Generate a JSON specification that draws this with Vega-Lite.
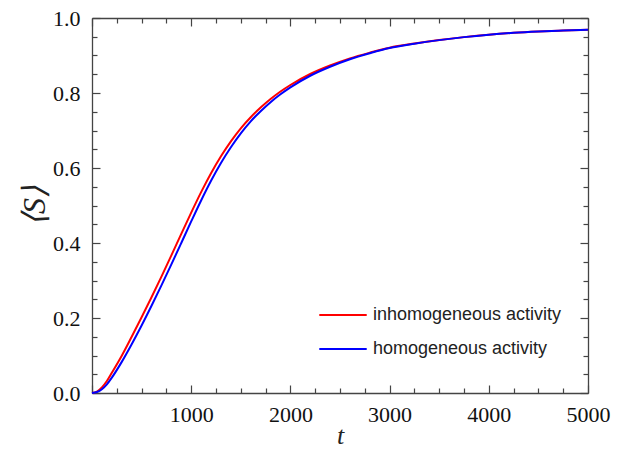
{
  "$schema": "https://vega.github.io/schema/vega-lite/v6.json",
  "width": 496,
  "height": 375,
  "autosize": "none",
  "padding": {"left": 92, "top": 18, "right": 37, "bottom": 57},
  "background": "white",
  "config": {
    "view": {"stroke": null},
    "axis": {
      "domainColor": "#444",
      "domainWidth": 1.3,
      "tickColor": "#444",
      "tickWidth": 1.2,
      "grid": false,
      "labelFont": "Liberation Serif",
      "labelFontSize": 22,
      "labelColor": "#111",
      "labelFlush": false,
      "labelOverlap": false,
      "labelLimit": 0,
      "titleFont": "Liberation Serif",
      "titleFontStyle": "italic",
      "titleFontWeight": "normal",
      "titleColor": "#222"
    },
    "legend": {
      "labelFont": "Liberation Sans",
      "labelFontSize": 18,
      "labelColor": "#222",
      "labelLimit": 0,
      "symbolType": "stroke",
      "symbolSize": 2250,
      "symbolStrokeWidth": 2,
      "rowPadding": -4,
      "labelOffset": 5
    }
  },
  "data": {
    "values": [
      {"t": 0, "S": 0, "series": "inhomogeneous activity"},
      {"t": 50, "S": 0.004, "series": "inhomogeneous activity"},
      {"t": 100, "S": 0.015, "series": "inhomogeneous activity"},
      {"t": 150, "S": 0.032, "series": "inhomogeneous activity"},
      {"t": 200, "S": 0.054, "series": "inhomogeneous activity"},
      {"t": 300, "S": 0.0995, "series": "inhomogeneous activity"},
      {"t": 400, "S": 0.150, "series": "inhomogeneous activity"},
      {"t": 500, "S": 0.202, "series": "inhomogeneous activity"},
      {"t": 600, "S": 0.2554, "series": "inhomogeneous activity"},
      {"t": 700, "S": 0.3105, "series": "inhomogeneous activity"},
      {"t": 800, "S": 0.3669, "series": "inhomogeneous activity"},
      {"t": 900, "S": 0.4242, "series": "inhomogeneous activity"},
      {"t": 1000, "S": 0.481, "series": "inhomogeneous activity"},
      {"t": 1100, "S": 0.5356, "series": "inhomogeneous activity"},
      {"t": 1200, "S": 0.586, "series": "inhomogeneous activity"},
      {"t": 1300, "S": 0.6311, "series": "inhomogeneous activity"},
      {"t": 1400, "S": 0.671, "series": "inhomogeneous activity"},
      {"t": 1500, "S": 0.7059, "series": "inhomogeneous activity"},
      {"t": 1600, "S": 0.7353, "series": "inhomogeneous activity"},
      {"t": 1700, "S": 0.7611, "series": "inhomogeneous activity"},
      {"t": 1800, "S": 0.7839, "series": "inhomogeneous activity"},
      {"t": 1900, "S": 0.8039, "series": "inhomogeneous activity"},
      {"t": 2000, "S": 0.8213, "series": "inhomogeneous activity"},
      {"t": 2200, "S": 0.8507, "series": "inhomogeneous activity"},
      {"t": 2400, "S": 0.8733, "series": "inhomogeneous activity"},
      {"t": 2600, "S": 0.8923, "series": "inhomogeneous activity"},
      {"t": 2800, "S": 0.9075, "series": "inhomogeneous activity"},
      {"t": 3000, "S": 0.9209, "series": "inhomogeneous activity"},
      {"t": 3250, "S": 0.9319, "series": "inhomogeneous activity"},
      {"t": 3500, "S": 0.9412, "series": "inhomogeneous activity"},
      {"t": 3750, "S": 0.949, "series": "inhomogeneous activity"},
      {"t": 4000, "S": 0.9555, "series": "inhomogeneous activity"},
      {"t": 4250, "S": 0.9605, "series": "inhomogeneous activity"},
      {"t": 4500, "S": 0.964, "series": "inhomogeneous activity"},
      {"t": 4750, "S": 0.9665, "series": "inhomogeneous activity"},
      {"t": 5000, "S": 0.9685, "series": "inhomogeneous activity"},
      {"t": 0, "S": 0, "series": "homogeneous activity"},
      {"t": 50, "S": 0.0026, "series": "homogeneous activity"},
      {"t": 100, "S": 0.010, "series": "homogeneous activity"},
      {"t": 150, "S": 0.023, "series": "homogeneous activity"},
      {"t": 200, "S": 0.041, "series": "homogeneous activity"},
      {"t": 300, "S": 0.083, "series": "homogeneous activity"},
      {"t": 400, "S": 0.130, "series": "homogeneous activity"},
      {"t": 500, "S": 0.180, "series": "homogeneous activity"},
      {"t": 600, "S": 0.2325, "series": "homogeneous activity"},
      {"t": 700, "S": 0.287, "series": "homogeneous activity"},
      {"t": 800, "S": 0.343, "series": "homogeneous activity"},
      {"t": 900, "S": 0.400, "series": "homogeneous activity"},
      {"t": 1000, "S": 0.4575, "series": "homogeneous activity"},
      {"t": 1100, "S": 0.5135, "series": "homogeneous activity"},
      {"t": 1200, "S": 0.566, "series": "homogeneous activity"},
      {"t": 1300, "S": 0.6135, "series": "homogeneous activity"},
      {"t": 1400, "S": 0.6555, "series": "homogeneous activity"},
      {"t": 1500, "S": 0.6925, "series": "homogeneous activity"},
      {"t": 1600, "S": 0.7245, "series": "homogeneous activity"},
      {"t": 1700, "S": 0.7515, "series": "homogeneous activity"},
      {"t": 1800, "S": 0.7755, "series": "homogeneous activity"},
      {"t": 1900, "S": 0.7965, "series": "homogeneous activity"},
      {"t": 2000, "S": 0.815, "series": "homogeneous activity"},
      {"t": 2200, "S": 0.846, "series": "homogeneous activity"},
      {"t": 2400, "S": 0.870, "series": "homogeneous activity"},
      {"t": 2600, "S": 0.890, "series": "homogeneous activity"},
      {"t": 2800, "S": 0.906, "series": "homogeneous activity"},
      {"t": 3000, "S": 0.920, "series": "homogeneous activity"},
      {"t": 3250, "S": 0.9315, "series": "homogeneous activity"},
      {"t": 3500, "S": 0.941, "series": "homogeneous activity"},
      {"t": 3750, "S": 0.949, "series": "homogeneous activity"},
      {"t": 4000, "S": 0.9555, "series": "homogeneous activity"},
      {"t": 4250, "S": 0.9605, "series": "homogeneous activity"},
      {"t": 4500, "S": 0.964, "series": "homogeneous activity"},
      {"t": 4750, "S": 0.9665, "series": "homogeneous activity"},
      {"t": 5000, "S": 0.9685, "series": "homogeneous activity"}
    ]
  },
  "layer": [
    {
      "transform": [{"filter": "datum.series == 'inhomogeneous activity'"}],
      "mark": {"type": "line", "strokeWidth": 2, "interpolate": "monotone"},
      "encoding": {
        "x": {
          "field": "t", "type": "quantitative",
          "scale": {"domain": [0, 5000], "nice": false},
          "axis": {
            "orient": "bottom",
            "title": "t",
            "titleFontSize": 26,
            "titlePadding": -6,
            "values": [0,250,500,750,1000,1250,1500,1750,2000,2250,2500,2750,3000,3250,3500,3750,4000,4250,4500,4750,5000],
            "labelExpr": "datum.value > 0 && datum.value % 1000 == 0 ? '' + datum.value : ''",
            "tickSize": {"condition": {"test": "datum.value % 1000 == 0", "value": -8}, "value": -5},
            "labelPadding": 19
          }
        },
        "y": {
          "field": "S", "type": "quantitative",
          "scale": {"domain": [0, 1], "nice": false},
          "axis": {
            "orient": "left",
            "title": "⟨S⟩",
            "titleFontSize": 32,
            "titlePadding": 1,
            "values": [0,0.05,0.1,0.15,0.2,0.25,0.3,0.35,0.4,0.45,0.5,0.55,0.6,0.65,0.7,0.75,0.8,0.85,0.9,0.95,1],
            "labelExpr": "abs(datum.value*5 - round(datum.value*5)) < 0.000001 ? format(datum.value, '.1f') : ''",
            "tickSize": {"condition": {"test": "abs(datum.value*5 - round(datum.value*5)) < 0.000001", "value": -8}, "value": -5},
            "labelPadding": 20
          }
        },
        "color": {
          "field": "series", "type": "nominal",
          "scale": {"domain": ["inhomogeneous activity", "homogeneous activity"], "range": ["#ff0000", "#0000ff"]},
          "legend": {"title": null, "orient": "none", "legendX": 226, "legendY": 272}
        }
      }
    },
    {
      "transform": [{"filter": "datum.series == 'homogeneous activity'"}],
      "mark": {"type": "line", "strokeWidth": 2, "interpolate": "monotone"},
      "encoding": {
        "x": {"field": "t", "type": "quantitative", "axis": null},
        "y": {"field": "S", "type": "quantitative", "axis": null},
        "color": {"field": "series", "type": "nominal"}
      }
    },
    {
      "mark": {"type": "line", "opacity": 0},
      "encoding": {
        "x": {
          "field": "t", "type": "quantitative",
          "axis": {
            "orient": "top", "title": null, "labels": false,
            "values": [0,250,500,750,1000,1250,1500,1750,2000,2250,2500,2750,3000,3250,3500,3750,4000,4250,4500,4750,5000],
            "tickSize": {"condition": {"test": "datum.value % 1000 == 0", "value": -8}, "value": -5}
          }
        },
        "y": {
          "field": "S", "type": "quantitative",
          "axis": {
            "orient": "right", "title": null, "labels": false,
            "values": [0,0.05,0.1,0.15,0.2,0.25,0.3,0.35,0.4,0.45,0.5,0.55,0.6,0.65,0.7,0.75,0.8,0.85,0.9,0.95,1],
            "tickSize": {"condition": {"test": "abs(datum.value*5 - round(datum.value*5)) < 0.000001", "value": -8}, "value": -5}
          }
        },
        "detail": {"field": "series", "type": "nominal"}
      }
    }
  ],
  "resolve": {"axis": {"x": "independent", "y": "independent"}}
}
